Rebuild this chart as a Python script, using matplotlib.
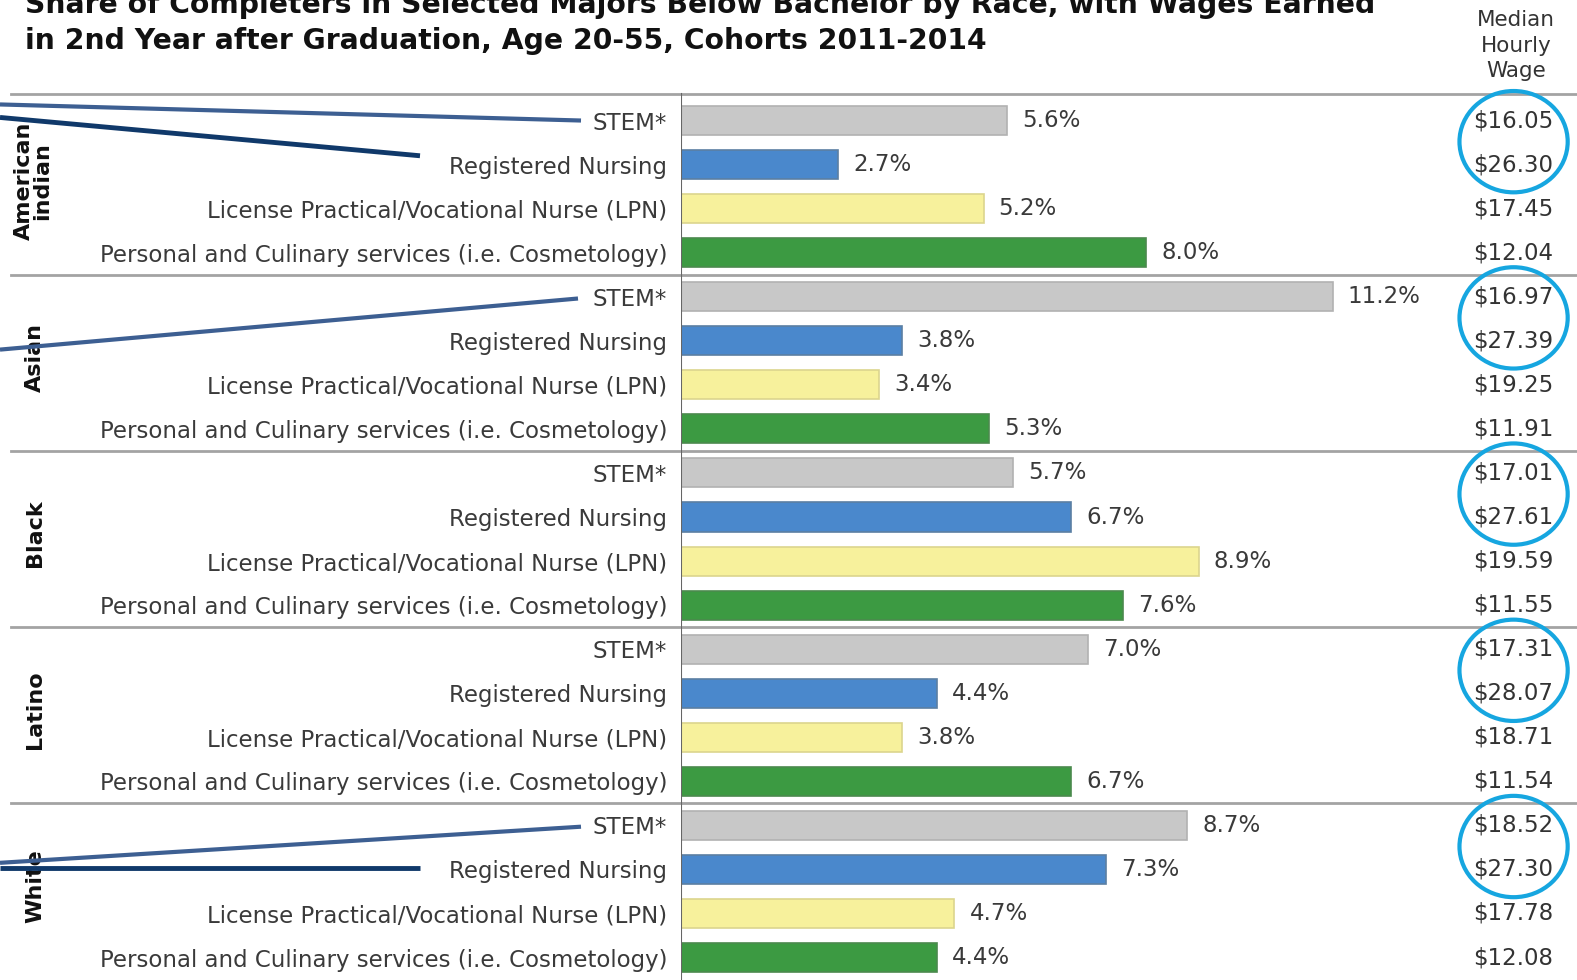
import numpy as np
import matplotlib
matplotlib.use("Agg")
import matplotlib.pyplot as plt
from matplotlib.patches import Ellipse
from matplotlib.transforms import blended_transform_factory

races = ["American\nindian", "Asian", "Black", "Latino", "White"]
majors = ["STEM*", "Registered Nursing", "License Practical/Vocational Nurse (LPN)",
          "Personal and Culinary services (i.e. Cosmetology)"]
major_colors = ["#c8c8c8", "#4a88cc", "#f7f19c", "#3c9a42"]
edge_colors = ["#b2b2b2", "#5b7fa3", "#dcd58e", "#4b8a4e"]

# share of completers (%) per race, in major order
share_ai = [5.6, 2.7, 5.2, 8.0]
share_asian = [11.2, 3.8, 3.4, 5.3]
share_black = [5.7, 6.7, 8.9, 7.6]
share_latino = [7.0, 4.4, 3.8, 6.7]
share_white = [8.7, 7.3, 4.7, 4.4]

# median hourly wage per race, in major order
wage_ai = ["$16.05", "$26.30", "$17.45", "$12.04"]
wage_asian = ["$16.97", "$27.39", "$19.25", "$11.91"]
wage_black = ["$17.01", "$27.61", "$19.59", "$11.55"]
wage_latino = ["$17.31", "$28.07", "$18.71", "$11.54"]
wage_white = ["$18.52", "$27.30", "$17.78", "$12.08"]

shares = [share_ai, share_asian, share_black, share_latino, share_white]
wages = [wage_ai, wage_asian, wage_black, wage_latino, wage_white]

plt.rcParams["font.family"] = "DejaVu Sans"
fig = plt.figure(figsize=(15.77, 9.80), dpi=100)
ax = fig.add_axes([681 / 1577, 0, 1 - 681 / 1577, 1])

rows = np.arange(len(races) * len(majors))
vals = [v for s in shares for v in s]
cols = major_colors * len(races)
edges = edge_colors * len(races)
ax.barh(rows, vals, height=0.66, color=cols, edgecolor=edges, linewidth=1.2, zorder=2)

ax.set_xlim(0, 15.4)
ax.set_ylim(19.51, -2.736)
for s in ax.spines.values():
    s.set_visible(False)
ax.set_xticks([])
ax.set_yticks(rows)
ax.set_yticklabels(majors * len(races), fontsize=16.5, color="#3a3a3a")
ax.tick_params(axis="y", length=0, pad=10)

# value labels
for r, v in zip(rows, vals):
    ax.text(v + 0.26, r, f"{v:.1f}%", va="center", ha="left", fontsize=16.5, color="#3a3a3a")

# wage column
wage_x = 14.31
for r, w in zip(rows, [w for ws in wages for w in ws]):
    ax.text(wage_x, r, w, va="center", ha="center", fontsize=16.5, color="#333333")
fig.text(1516 / 1577, 1 - 45.5 / 980, "Median\nHourly\nWage", ha="center", va="center",
         fontsize=15.5, color="#333333", linespacing=1.35)

# circles around STEM / nursing wages
for g in range(len(races)):
    ax.add_patch(Ellipse((wage_x, g * 4 + 0.48), 1.86, 2.3, fill=False,
                         edgecolor="#16a6e0", linewidth=3, clip_on=False, zorder=3))

# gridlines separating races
tr = blended_transform_factory(fig.transFigure, ax.transData)
for y in [-0.60, 3.5, 7.5, 11.5, 15.5]:
    ax.plot([0.007, 1.0], [y, y], transform=tr, color="#a3a3a3", lw=2, clip_on=False, zorder=1)
ax.plot([0, 0], [-0.60, 19.51], color="#666666", lw=1.5, zorder=3)

# race labels
race_x = [33, 35, 35, 35, 35]
for g, name in enumerate(races):
    ax.text(race_x[g] / 1577, g * 4 + 1.37, name, transform=tr, rotation=90,
            ha="center", va="center", fontsize=16, fontweight="bold",
            color="#111111", linespacing=0.9)

# leader lines into the labels
leaders = [
    ((0.0, -0.365), (581 / 1577, 0.0), "#3d5f92", 3.0),
    ((0.0, -0.07), (420 / 1577, 0.80), "#10396a", 3.5),
    ((0.0, 5.2), (578 / 1577, 4.04), "#3d5f92", 3.0),
    ((0.0, 16.85), (581 / 1577, 16.03), "#3d5f92", 3.0),
    ((0.0, 16.97), (420 / 1577, 16.97), "#10396a", 3.5),
]
for (x0, y0), (x1, y1), c, lw in leaders:
    ax.plot([x0, x1], [y0, y1], transform=tr, color=c, lw=lw, clip_on=False,
            solid_capstyle="butt", zorder=4)

fig.text(25 / 1577, 1 - 5 / 980,
         "Share of Completers in Selected Majors Below Bachelor by Race, with Wages Earned",
         ha="left", va="center", fontsize=20.3, fontweight="bold", color="#111111")
fig.text(25 / 1577, 1 - 41 / 980,
         "in 2nd Year after Graduation, Age 20-55, Cohorts 2011-2014",
         ha="left", va="center", fontsize=20.3, fontweight="bold", color="#111111")

fig.savefig("out.png", dpi=100)
